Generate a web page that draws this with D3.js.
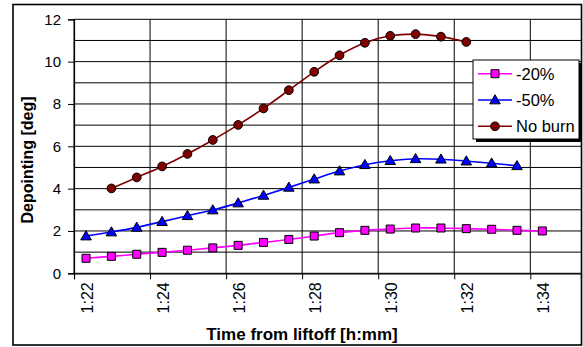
<!DOCTYPE html>
<html>
<head>
<meta charset="utf-8">
<script src="https://cdnjs.cloudflare.com/ajax/libs/d3/7.8.5/d3.min.js"></script>
<style>
  html, body { margin: 0; padding: 0; background: #fff; }
  svg { display: block; font-family: "Liberation Sans", Arial, sans-serif; }
</style>
</head>
<body>
<svg id="chart" width="583" height="347"></svg>
<script>
// Sample times (h:mm:ss after liftoff), one every 40 s
const times = ["1:22:19","1:22:59","1:23:39","1:24:19","1:24:59","1:25:39","1:26:19",
  "1:26:59","1:27:39","1:28:19","1:28:59","1:29:39","1:30:19","1:30:59","1:31:39",
  "1:32:19","1:32:59","1:33:39","1:34:19"];

// Depointing [deg] per burn case
const burn20 = [0.71,0.80,0.90,0.99,1.09,1.20,1.32,1.46,1.60,1.76,1.92,2.03,2.09,2.14,2.14,2.11,2.08,2.03,2.00];
const burn50 = [1.76,1.95,2.17,2.44,2.72,2.99,3.32,3.68,4.06,4.45,4.83,5.13,5.32,5.41,5.39,5.30,5.20,5.08];
const noBurn = [4.01,4.53,5.05,5.64,6.30,7.01,7.79,8.65,9.52,10.30,10.89,11.22,11.30,11.18,10.93];
const noBurnStart = 1; // first sample index of the no-burn case

const xTickLabels = ["1:22","1:24","1:26","1:28","1:30","1:32","1:34"];
const yTicks = [0,2,4,6,8,10,12];
const seriesNames = ["-20%","-50%","No burn"];

const toMin = s => { const p = s.split(":").map(Number); return p[0]*60 + p[1] + (p[2]||0)/60; };

const svg = d3.select("#chart");
const x = d3.scaleLinear().domain([82, 95 + 20/60]).range([74, 581]);
const y = d3.scaleLinear().domain([0, 12]).range([273.3, 19.3]);

// chart frame
svg.append("rect").attr("x", 13).attr("y", 4.5).attr("width", 568.5).attr("height", 340.5)
  .attr("fill", "#fff").attr("stroke", "#000").attr("stroke-width", 1.6);

// gridlines
const grid = svg.append("g").attr("stroke", "#000").attr("stroke-width", 1);
grid.selectAll("line.h").data(d3.range(0, 13)).join("line")
  .attr("x1", x.range()[0]).attr("x2", x.range()[1])
  .attr("y1", d => y(d)).attr("y2", d => y(d));
grid.selectAll("line.v").data(xTickLabels).join("line")
  .attr("x1", d => x(toMin(d))).attr("x2", d => x(toMin(d)))
  .attr("y1", y(0)).attr("y2", y(12));

// y axis
const yAxis = svg.append("g").attr("transform", `translate(${x(82)},0)`)
  .call(d3.axisLeft(y).tickValues(yTicks).tickSize(6).tickPadding(7).tickFormat(d3.format("d")));
yAxis.select(".domain").attr("stroke", "#000").attr("stroke-width", 1.2);
yAxis.selectAll(".tick line").attr("stroke", "#000");
yAxis.selectAll(".tick text").attr("font-size", 15).attr("fill", "#000")
  .attr("font-family", "Liberation Sans, Arial, sans-serif");

// x axis
const xAxis = svg.append("g").attr("transform", `translate(0,${y(0)})`)
  .call(d3.axisBottom(x).tickValues(xTickLabels.map(toMin)).tickSize(6)
    .tickFormat((d, i) => xTickLabels[i]));
xAxis.select(".domain").attr("stroke", "#000").attr("stroke-width", 1.2);
xAxis.selectAll(".tick line").attr("stroke", "#000");
xAxis.selectAll(".tick text")
  .attr("font-size", 16).attr("fill", "#000")
  .attr("font-family", "Liberation Sans, Arial, sans-serif")
  .attr("text-anchor", "end").attr("dy", null).attr("y", 0)
  .attr("transform", "translate(18,9) rotate(-90)");

// axis titles
svg.append("text").attr("x", 302).attr("y", 340)
  .attr("text-anchor", "middle").attr("font-weight", "bold").attr("font-size", 17)
  .text("Time from liftoff [h:mm]");
svg.append("text").attr("transform", "translate(33,160) rotate(-90)")
  .attr("text-anchor", "middle").attr("font-weight", "bold").attr("font-size", 16)
  .text("Depointing [deg]");

// series
const series = [
  { name: seriesNames[0], values: burn20, start: 0, color: "#FF00FF", marker: "square" },
  { name: seriesNames[1], values: burn50, start: 0, color: "#0000FF", marker: "triangle" },
  { name: seriesNames[2], values: noBurn, start: noBurnStart, color: "#800000", marker: "circle" }
];
const symbolOf = m => m === "square" ? d3.symbolSquare : m === "triangle" ? d3.symbolTriangle : d3.symbolCircle;
const sizeOf = m => m === "square" ? 64 : m === "triangle" ? 48 : 60;

const line = d3.line().x(d => x(d.t)).y(d => y(d.v)).curve(d3.curveCatmullRom.alpha(0.5));

series.forEach(s => {
  const pts = s.values.map((v, i) => ({ t: toMin(times[s.start + i]), v }));
  svg.append("path").datum(pts).attr("d", line)
    .attr("fill", "none").attr("stroke", s.color).attr("stroke-width", 1.6);
  svg.append("g").selectAll("path").data(pts).join("path")
    .attr("transform", d => `translate(${x(d.t)},${y(d.v) + (s.marker === "triangle" ? 0.8 : 0)})`)
    .attr("d", d3.symbol().type(symbolOf(s.marker)).size(sizeOf(s.marker)))
    .attr("fill", s.color).attr("stroke", "#000").attr("stroke-width", 1);
});

// legend
const lg = svg.append("g");
lg.append("rect").attr("x", 476).attr("y", 63).attr("width", 106).attr("height", 79).attr("fill", "#000");
lg.append("rect").attr("x", 473).attr("y", 60).attr("width", 106).attr("height", 79)
  .attr("fill", "#fff").attr("stroke", "#000").attr("stroke-width", 1);
const rows = [73.7, 100, 126.3];
series.forEach((s, i) => {
  const ry = rows[i];
  lg.append("line").attr("x1", 478).attr("x2", 512).attr("y1", ry).attr("y2", ry)
    .attr("stroke", s.color).attr("stroke-width", 1.6);
  lg.append("path").attr("transform", `translate(495,${ry + (s.marker === "triangle" ? 0.8 : 0)})`)
    .attr("d", d3.symbol().type(symbolOf(s.marker)).size(sizeOf(s.marker)))
    .attr("fill", s.color).attr("stroke", "#000").attr("stroke-width", 1);
  lg.append("text").attr("x", 516).attr("y", ry).attr("dy", "0.36em")
    .attr("font-size", 16.5).text(s.name);
});
</script>
</body>
</html>
